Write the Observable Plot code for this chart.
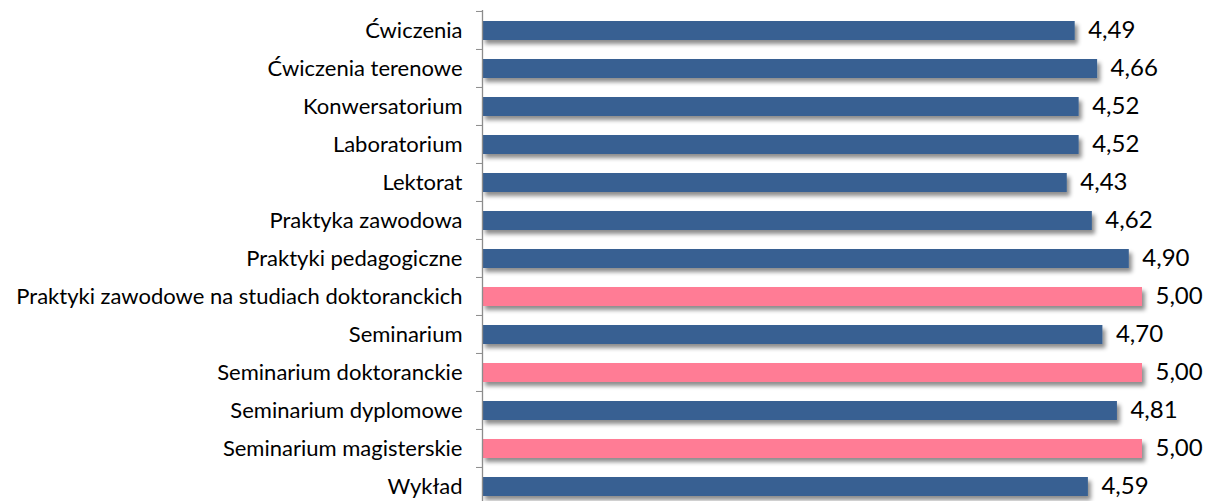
<!DOCTYPE html>
<html><head><meta charset="utf-8">
<script src="https://cdn.jsdelivr.net/npm/d3@7"></script>
<script src="https://cdn.jsdelivr.net/npm/@observablehq/plot@0.6"></script>
<style>body{margin:0;background:#fff}</style>
</head><body><div id="chart"></div>
<script>
const categories = [
  "Ćwiczenia",
  "Ćwiczenia terenowe",
  "Konwersatorium",
  "Laboratorium",
  "Lektorat",
  "Praktyka zawodowa",
  "Praktyki pedagogiczne",
  "Praktyki zawodowe na studiach doktoranckich",
  "Seminarium",
  "Seminarium doktoranckie",
  "Seminarium dyplomowe",
  "Seminarium magisterskie",
  "Wykład"
];
const values = [4.49, 4.66, 4.52, 4.52, 4.43, 4.62, 4.90, 5.00, 4.70, 5.00, 4.81, 5.00, 4.59];

const data = categories.map((c, i) => ({category: c, value: values[i]}));
const maxValue = d3.max(values);
const fmt = v => v.toFixed(2).replace(".", ",");

const chart = Plot.plot({
  width: 1206, height: 501,
  marginLeft: 482, marginRight: 64, marginTop: 10, marginBottom: 0,
  style: {fontFamily: "Lato", fontSize: "22px", color: "#000", background: "#fff"},
  x: {domain: [0, 5], axis: null},
  y: {domain: categories, range: [10, 505], padding: 0, label: null},
  marks: [
    Plot.barX(data, {y: "category", x: "value", fill: d => d.value === maxValue ? "#FF7C95" : "#376092", insetTop: 10, insetBottom: 9}),
    Plot.ruleX([0], {stroke: "#8c8c8c", strokeWidth: 1.3}),
    Plot.axisY({tickSize: 6, tickFormat: () => "", dy: -19.04, stroke: "#8c8c8c", label: null}),
    Plot.axisY({tickSize: 0, tickPadding: 20, fontSize: 22, fill: "#000", label: null}),
    Plot.text(data, {y: "category", x: "value", text: d => fmt(d.value), textAnchor: "start", dx: 13, fontSize: 24, fill: "#000"})
  ]
});
document.getElementById("chart").appendChild(chart);

const svg = d3.select(chart);
const defs = svg.insert("defs", ":first-child");
const f = defs.append("filter").attr("id", "barShadow").attr("x", "-10%").attr("y", "-50%").attr("width", "130%").attr("height", "250%");
f.append("feDropShadow").attr("dx", 3).attr("dy", 4).attr("stdDeviation", 2.2).attr("flood-color", "#000").attr("flood-opacity", 0.45);
svg.selectAll('g[aria-label="bar"]').attr("filter", "url(#barShadow)");
</script>
</body></html>
